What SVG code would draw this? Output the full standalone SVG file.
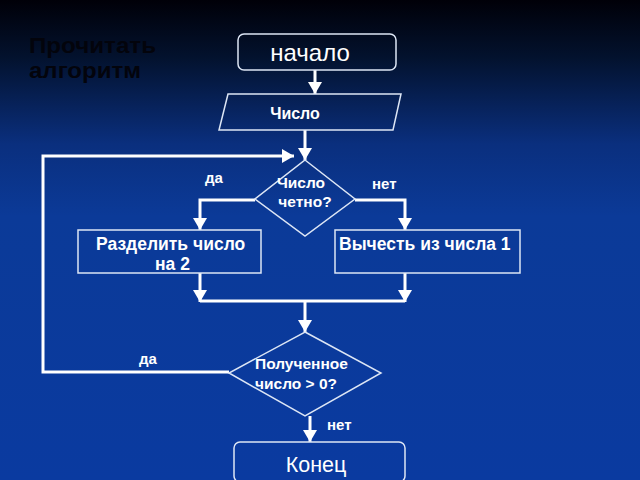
<svg xmlns="http://www.w3.org/2000/svg" width="640" height="480" viewBox="0 0 640 480">
<defs>
<linearGradient id="bg" x1="0" y1="0" x2="0" y2="1">
<stop offset="0" stop-color="#000008"/>
<stop offset="0.12" stop-color="#03122e"/>
<stop offset="0.3" stop-color="#0a2f7e"/>
<stop offset="0.45" stop-color="#0b3a98"/>
<stop offset="1" stop-color="#0a3aa0"/>
</linearGradient>
<marker id="ah" viewBox="0 0 12 14" refX="12" refY="7" markerWidth="12" markerHeight="14" markerUnits="userSpaceOnUse" orient="auto">
<path d="M0,0 L12,7 L0,14 Z" fill="#ffffff"/>
</marker>
<style>
.sh{fill:none;stroke:#dde6f5;stroke-width:1.5}
.cn{fill:none;stroke:#ffffff;stroke-width:3}
.b{font-family:"Liberation Sans",Arial,sans-serif;font-weight:bold;fill:#ffffff}
.r{font-family:"Liberation Sans",Arial,sans-serif;fill:#ffffff}
</style>
</defs>
<rect x="0" y="0" width="640" height="480" fill="url(#bg)"/>
<text x="29" y="53" font-family="'Liberation Sans',Arial,sans-serif" font-weight="bold" font-size="22" fill="#03040c" textLength="127" lengthAdjust="spacingAndGlyphs">Прочитать</text>
<text x="29" y="78" font-family="'Liberation Sans',Arial,sans-serif" font-weight="bold" font-size="22" fill="#03040c" textLength="112" lengthAdjust="spacingAndGlyphs">алгоритм</text>
<g id="connectors">
<line class="cn" x1="315" y1="70" x2="315" y2="94" marker-end="url(#ah)"/>
<line class="cn" x1="305" y1="130" x2="305" y2="160" marker-end="url(#ah)"/>
<polyline class="cn" points="229,372 43,372 43,156 294,156" marker-end="url(#ah)"/>
<polyline class="cn" points="255,200 200,200 200,230" marker-end="url(#ah)"/>
<polyline class="cn" points="355,200 405,200 405,230" marker-end="url(#ah)"/>
<line class="cn" x1="200" y1="273" x2="200" y2="302" marker-end="url(#ah)"/>
<line class="cn" x1="405" y1="273" x2="405" y2="302" marker-end="url(#ah)"/>
<line class="cn" x1="200" y1="301" x2="405" y2="301"/>
<line class="cn" x1="305" y1="301" x2="305" y2="332" marker-end="url(#ah)"/>
<line class="cn" x1="310" y1="416" x2="310" y2="442" marker-end="url(#ah)"/>
<text class="b" x="205" y="183" font-size="15">да</text>
<text class="b" x="372" y="189" font-size="15">нет</text>
<text class="b" x="139" y="364" font-size="15">да</text>
<text class="b" x="327" y="430" font-size="15">нет</text>
</g>
<g id="start">
<rect class="sh" x="238" y="34" width="158" height="36" rx="6"/>
<text class="r" x="310" y="61" font-size="24" text-anchor="middle">начало</text>
</g>
<g id="input">
<polygon class="sh" points="228,94 401,94 393,130 219,130"/>
<text class="b" x="295" y="119" font-size="16" text-anchor="middle">Число</text>
</g>
<g id="cond1">
<polygon class="sh" points="305,160 355,199 305,236 255,199"/>
<text class="b" x="301" y="188" font-size="15.5" text-anchor="middle">Число</text>
<text class="b" x="305" y="207" font-size="15.5" text-anchor="middle">четно?</text>
</g>
<g id="divide">
<rect class="sh" x="78" y="230" width="183" height="43"/>
<text class="b" x="96" y="250" font-size="17.5">Разделить число</text>
<text class="b" x="155" y="270" font-size="17.5">на 2</text>
</g>
<g id="subtract">
<rect class="sh" x="335" y="230" width="185" height="43"/>
<text class="b" x="339" y="250" font-size="17.5">Вычесть из числа 1</text>
</g>
<g id="cond2">
<polygon class="sh" points="305,332 381,373 305,416 229,373"/>
<text class="b" x="255" y="369" font-size="15.5">Полученное</text>
<text class="b" x="255" y="389" font-size="15.5">число &gt; 0?</text>
</g>
<g id="end">
<rect class="sh" x="234" y="442" width="171" height="40" rx="6"/>
<text class="r" x="316" y="472" font-size="21.5" text-anchor="middle">Конец</text>
</g>
</svg>
